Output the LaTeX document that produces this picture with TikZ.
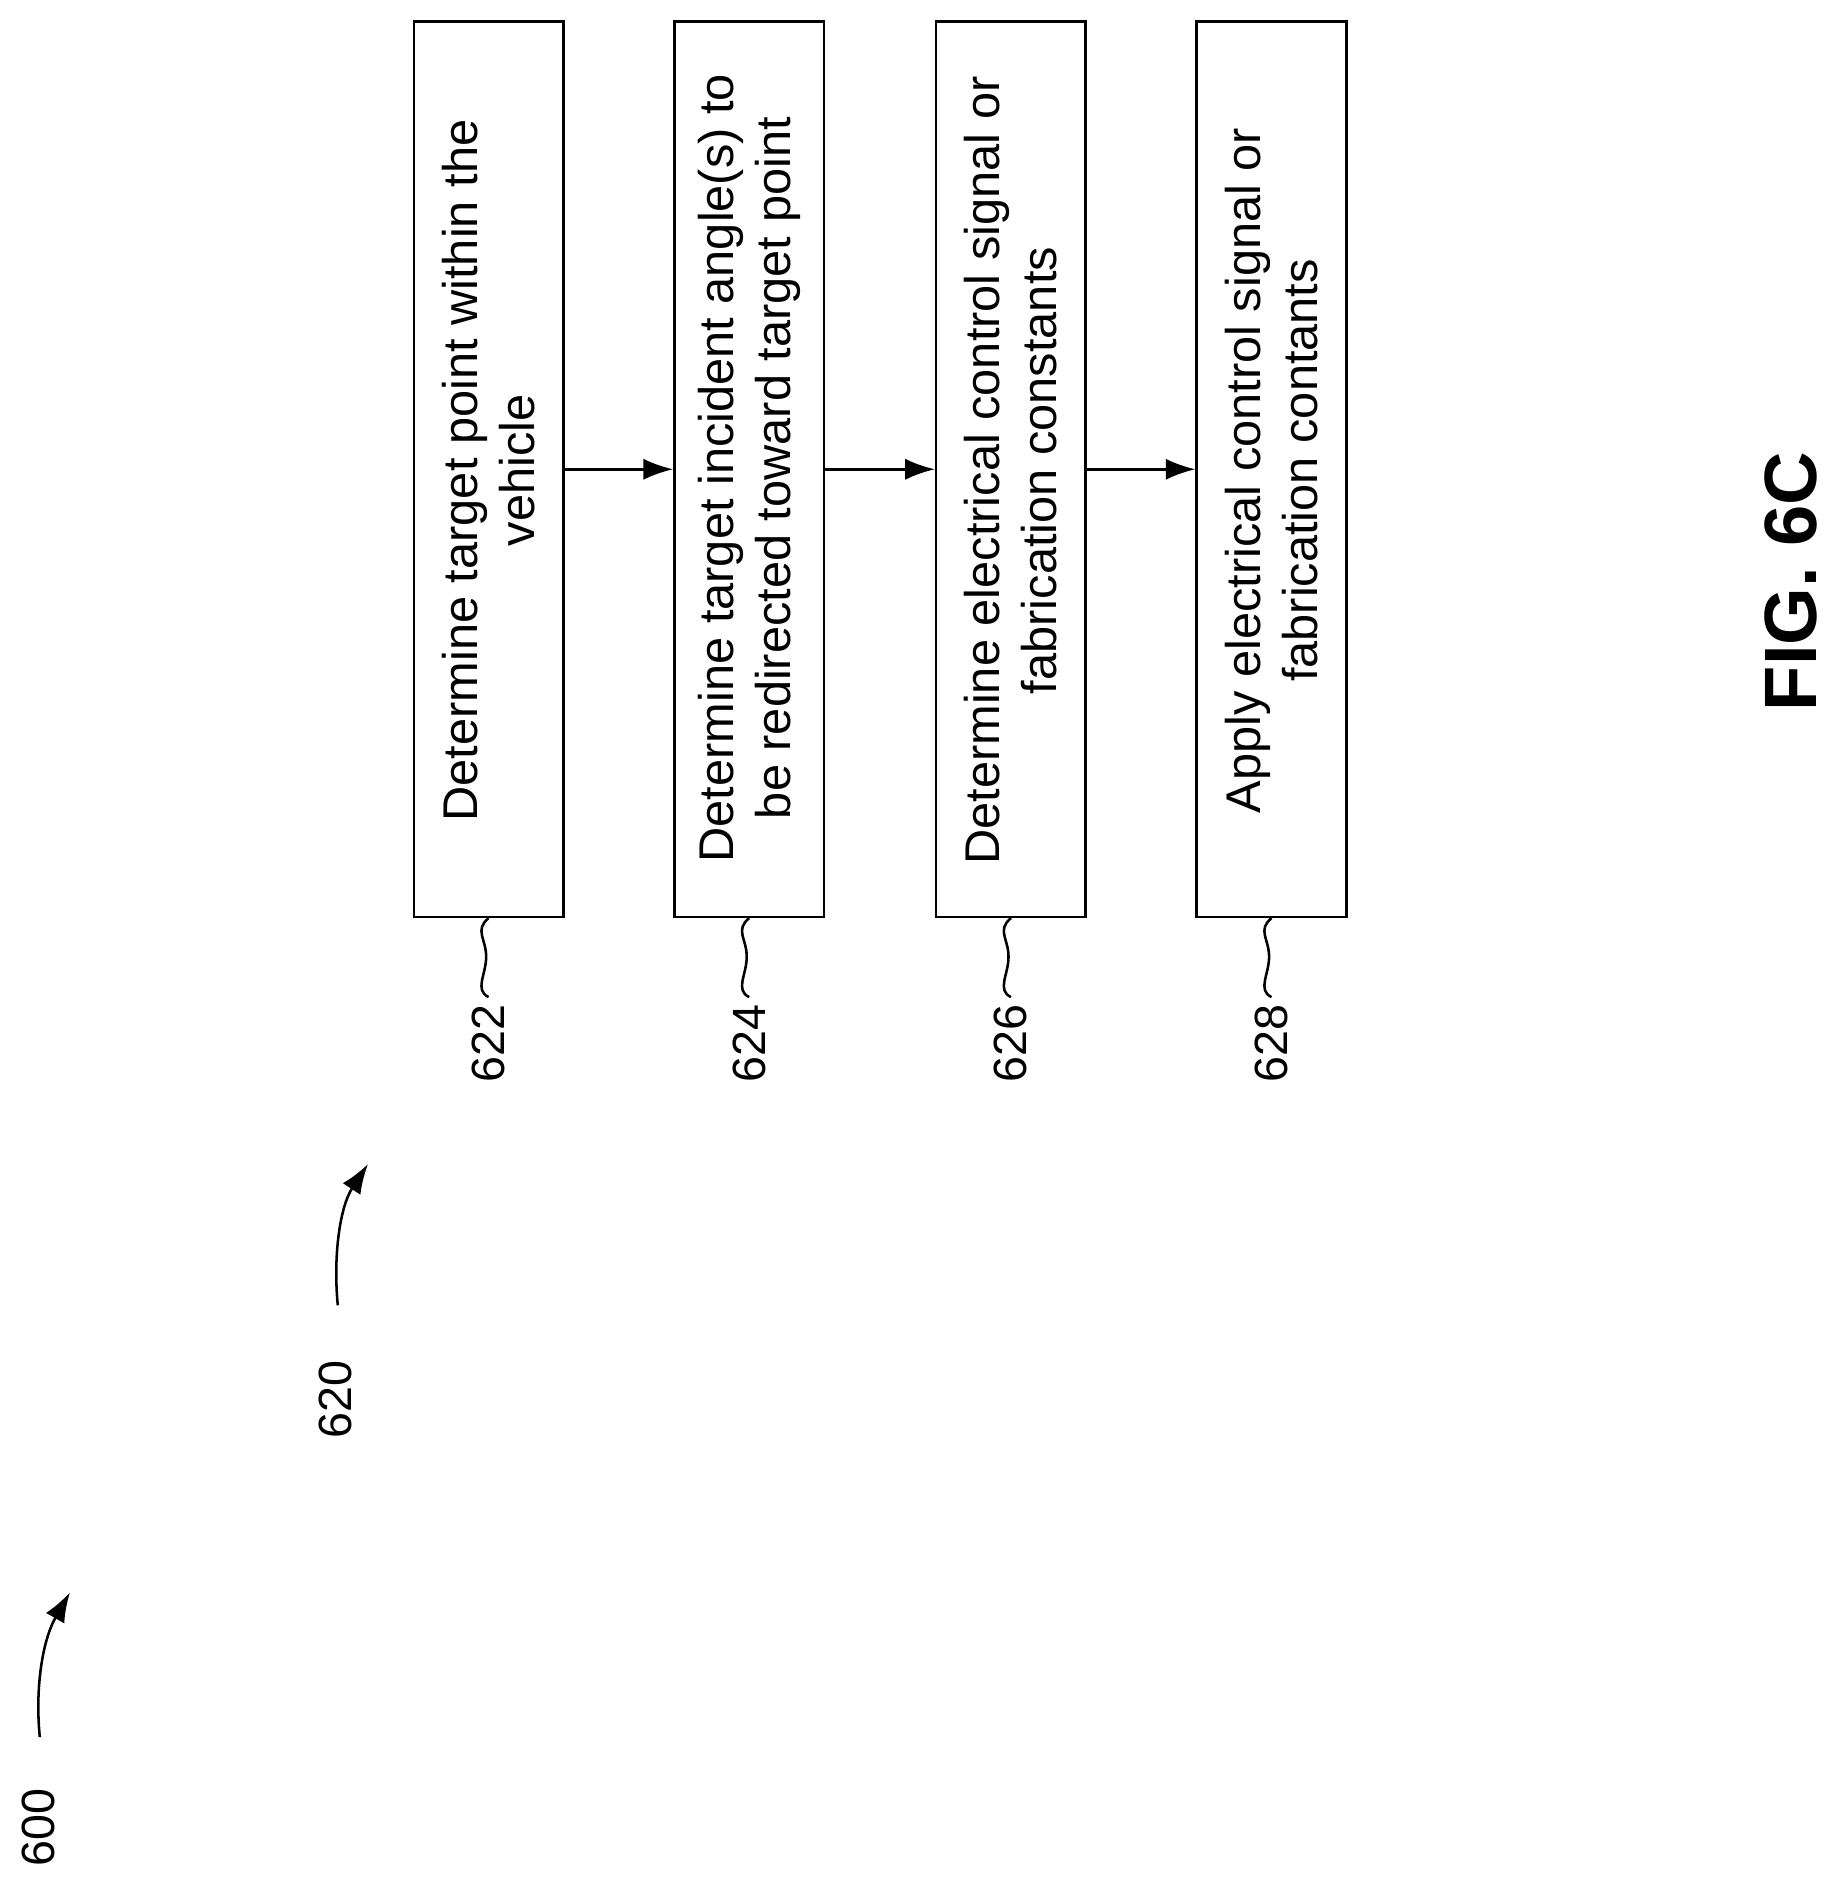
\documentclass[tikz,border=0pt]{standalone}
\usepackage{fontspec}
\setmainfont{Liberation Sans}
\usetikzlibrary{arrows.meta}
\begin{document}
\begin{tikzpicture}[x=0.02cm,y=-0.02cm]
\tikzset{stepbox/.style={draw,line width=1.2pt,minimum width=124*0.02cm,minimum height=742*0.02cm,inner sep=0pt},
steptext/.style={rotate=90,font=\fontsize{23}{27}\selectfont,align=center},
reflabel/.style={rotate=90,font=\fontsize{22}{26}\selectfont},
flow/.style={-{Latex[length=14pt,width=10pt]},line width=1.2pt}}
\useasboundingbox (0,0) rectangle (1530,1575);
\node[stepbox] (622) at (405,389) {};
\node[stepbox] (624) at (621,389) {};
\node[stepbox] (626) at (838,389) {};
\node[stepbox] (628) at (1054,389) {};
\node[steptext] at (405,390) {Determine target point within the\\vehicle};
\node[steptext] at (621,388) {Determine target incident angle(s) to\\be redirected toward target point};
\node[steptext] at (838,390) {Determine electrical control signal or\\fabrication constants};
\node[steptext] at (1054,390) {Apply electrical control signal or\\fabrication contants};
\draw[flow] (622.east) -- (624.west);
\draw[flow] (624.east) -- (626.west);
\draw[flow] (626.east) -- (628.west);
% reference numerals
\node[reflabel] (l622) at (405,865) {622};
\node[reflabel] (l624) at (621,865) {624};
\node[reflabel] (l626) at (838,865) {626};
\node[reflabel] (l628) at (1054,865) {628};
\foreach \n in {622,624,626,628}
  \draw[line width=1.2pt] (\n.south) .. controls +(-12,10) and +(0,-15) .. ++(-2,32) .. controls +(0,15) and +(-12,-6) .. (l\n.east);
\node[reflabel] (l620) at (278,1160) {620};
\coordinate (a620) at (280,1082);
\coordinate (b620) at (305,965);
\draw[flow] (a620) .. controls (276,1040) and (282,1000) .. (b620);
\node[reflabel] (l600) at (32,1515) {600};
\coordinate (a600) at (33,1440);
\coordinate (b600) at (58,1320);
\draw[flow] (a600) .. controls (29,1400) and (35,1360) .. (b600);
\node[rotate=90,font=\bfseries\fontsize{35}{42}\selectfont] (fig) at (1485,482) {FIG. 6C};
\end{tikzpicture}
\end{document}
